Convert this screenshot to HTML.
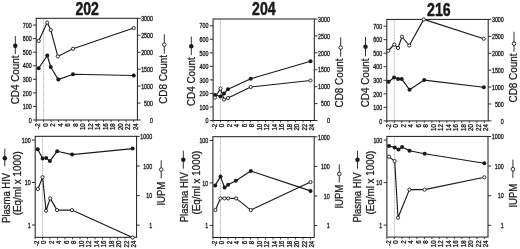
<!DOCTYPE html>
<html><head><meta charset="utf-8"><title>figure</title>
<style>
html,body{margin:0;padding:0;background:#fff;width:520px;height:249px;overflow:hidden;}
svg{display:block;font-family:"Liberation Sans", sans-serif;will-change:transform;filter:blur(0.3px);}
</style></head><body>
<svg width="520" height="249" viewBox="0 0 520 249" font-family='"Liberation Sans", sans-serif'>
<rect width="520" height="249" fill="#fff"/>
<text transform="translate(87.20,14.60) scale(0.8,1)" font-size="17.6" text-anchor="middle" font-weight="bold" fill="#1a1a1a" stroke="#1a1a1a" stroke-width="0.5">202</text>
<line x1="43.60" y1="18.30" x2="43.60" y2="120.00" stroke="#8c8c8c" stroke-width="0.8" stroke-dasharray="0.8,0.8"/>
<rect x="36.20" y="18.30" width="101.20" height="101.70" fill="none" stroke="#1a1a1a" stroke-width="1"/>
<line x1="33.00" y1="120.00" x2="36.20" y2="120.00" stroke="#1a1a1a" stroke-width="0.9"/>
<text transform="translate(31.60,122.70) scale(0.82,1)" font-size="6.5" text-anchor="end" font-weight="normal" fill="#1a1a1a" stroke="#1a1a1a" stroke-width="0.3">0</text>
<line x1="33.00" y1="106.44" x2="36.20" y2="106.44" stroke="#1a1a1a" stroke-width="0.9"/>
<text transform="translate(31.60,109.14) scale(0.82,1)" font-size="6.5" text-anchor="end" font-weight="normal" fill="#1a1a1a" stroke="#1a1a1a" stroke-width="0.3">100</text>
<line x1="33.00" y1="92.88" x2="36.20" y2="92.88" stroke="#1a1a1a" stroke-width="0.9"/>
<text transform="translate(31.60,95.58) scale(0.82,1)" font-size="6.5" text-anchor="end" font-weight="normal" fill="#1a1a1a" stroke="#1a1a1a" stroke-width="0.3">200</text>
<line x1="33.00" y1="79.32" x2="36.20" y2="79.32" stroke="#1a1a1a" stroke-width="0.9"/>
<text transform="translate(31.60,82.02) scale(0.82,1)" font-size="6.5" text-anchor="end" font-weight="normal" fill="#1a1a1a" stroke="#1a1a1a" stroke-width="0.3">300</text>
<line x1="33.00" y1="65.76" x2="36.20" y2="65.76" stroke="#1a1a1a" stroke-width="0.9"/>
<text transform="translate(31.60,68.46) scale(0.82,1)" font-size="6.5" text-anchor="end" font-weight="normal" fill="#1a1a1a" stroke="#1a1a1a" stroke-width="0.3">400</text>
<line x1="33.00" y1="52.20" x2="36.20" y2="52.20" stroke="#1a1a1a" stroke-width="0.9"/>
<text transform="translate(31.60,54.90) scale(0.82,1)" font-size="6.5" text-anchor="end" font-weight="normal" fill="#1a1a1a" stroke="#1a1a1a" stroke-width="0.3">500</text>
<line x1="33.00" y1="38.64" x2="36.20" y2="38.64" stroke="#1a1a1a" stroke-width="0.9"/>
<text transform="translate(31.60,41.34) scale(0.82,1)" font-size="6.5" text-anchor="end" font-weight="normal" fill="#1a1a1a" stroke="#1a1a1a" stroke-width="0.3">600</text>
<line x1="33.00" y1="25.08" x2="36.20" y2="25.08" stroke="#1a1a1a" stroke-width="0.9"/>
<text transform="translate(31.60,27.78) scale(0.82,1)" font-size="6.5" text-anchor="end" font-weight="normal" fill="#1a1a1a" stroke="#1a1a1a" stroke-width="0.3">700</text>
<line x1="137.40" y1="120.00" x2="140.60" y2="120.00" stroke="#1a1a1a" stroke-width="0.9"/>
<text transform="translate(153.00,122.70) scale(0.82,1)" font-size="6.5" text-anchor="end" font-weight="normal" fill="#1a1a1a" stroke="#1a1a1a" stroke-width="0.3">0</text>
<line x1="137.40" y1="103.05" x2="140.60" y2="103.05" stroke="#1a1a1a" stroke-width="0.9"/>
<text transform="translate(153.00,105.75) scale(0.82,1)" font-size="6.5" text-anchor="end" font-weight="normal" fill="#1a1a1a" stroke="#1a1a1a" stroke-width="0.3">500</text>
<line x1="137.40" y1="86.10" x2="140.60" y2="86.10" stroke="#1a1a1a" stroke-width="0.9"/>
<text transform="translate(153.00,88.80) scale(0.82,1)" font-size="6.5" text-anchor="end" font-weight="normal" fill="#1a1a1a" stroke="#1a1a1a" stroke-width="0.3">1000</text>
<line x1="137.40" y1="69.15" x2="140.60" y2="69.15" stroke="#1a1a1a" stroke-width="0.9"/>
<text transform="translate(153.00,71.85) scale(0.82,1)" font-size="6.5" text-anchor="end" font-weight="normal" fill="#1a1a1a" stroke="#1a1a1a" stroke-width="0.3">1500</text>
<line x1="137.40" y1="52.20" x2="140.60" y2="52.20" stroke="#1a1a1a" stroke-width="0.9"/>
<text transform="translate(153.00,54.90) scale(0.82,1)" font-size="6.5" text-anchor="end" font-weight="normal" fill="#1a1a1a" stroke="#1a1a1a" stroke-width="0.3">2000</text>
<line x1="137.40" y1="35.25" x2="140.60" y2="35.25" stroke="#1a1a1a" stroke-width="0.9"/>
<text transform="translate(153.00,37.95) scale(0.82,1)" font-size="6.5" text-anchor="end" font-weight="normal" fill="#1a1a1a" stroke="#1a1a1a" stroke-width="0.3">2500</text>
<line x1="137.40" y1="18.30" x2="140.60" y2="18.30" stroke="#1a1a1a" stroke-width="0.9"/>
<text transform="translate(153.00,21.00) scale(0.82,1)" font-size="6.5" text-anchor="end" font-weight="normal" fill="#1a1a1a" stroke="#1a1a1a" stroke-width="0.3">3000</text>
<line x1="36.10" y1="120.00" x2="36.10" y2="122.00" stroke="#1a1a1a" stroke-width="0.8"/>
<text transform="translate(40.00,123.30) rotate(-90) scale(0.97,1)" font-size="6.3" text-anchor="end" font-weight="normal" fill="#1a1a1a" stroke="#1a1a1a" stroke-width="0.3">-2</text>
<line x1="43.60" y1="120.00" x2="43.60" y2="122.00" stroke="#1a1a1a" stroke-width="0.8"/>
<text transform="translate(47.50,123.30) rotate(-90) scale(0.97,1)" font-size="6.3" text-anchor="end" font-weight="normal" fill="#1a1a1a" stroke="#1a1a1a" stroke-width="0.3">0</text>
<line x1="51.10" y1="120.00" x2="51.10" y2="122.00" stroke="#1a1a1a" stroke-width="0.8"/>
<text transform="translate(55.00,123.30) rotate(-90) scale(0.97,1)" font-size="6.3" text-anchor="end" font-weight="normal" fill="#1a1a1a" stroke="#1a1a1a" stroke-width="0.3">2</text>
<line x1="58.60" y1="120.00" x2="58.60" y2="122.00" stroke="#1a1a1a" stroke-width="0.8"/>
<text transform="translate(62.50,123.30) rotate(-90) scale(0.97,1)" font-size="6.3" text-anchor="end" font-weight="normal" fill="#1a1a1a" stroke="#1a1a1a" stroke-width="0.3">4</text>
<line x1="66.10" y1="120.00" x2="66.10" y2="122.00" stroke="#1a1a1a" stroke-width="0.8"/>
<text transform="translate(70.00,123.30) rotate(-90) scale(0.97,1)" font-size="6.3" text-anchor="end" font-weight="normal" fill="#1a1a1a" stroke="#1a1a1a" stroke-width="0.3">6</text>
<line x1="73.60" y1="120.00" x2="73.60" y2="122.00" stroke="#1a1a1a" stroke-width="0.8"/>
<text transform="translate(77.50,123.30) rotate(-90) scale(0.97,1)" font-size="6.3" text-anchor="end" font-weight="normal" fill="#1a1a1a" stroke="#1a1a1a" stroke-width="0.3">8</text>
<line x1="81.10" y1="120.00" x2="81.10" y2="122.00" stroke="#1a1a1a" stroke-width="0.8"/>
<text transform="translate(85.00,123.30) rotate(-90) scale(0.97,1)" font-size="6.3" text-anchor="end" font-weight="normal" fill="#1a1a1a" stroke="#1a1a1a" stroke-width="0.3">10</text>
<line x1="88.60" y1="120.00" x2="88.60" y2="122.00" stroke="#1a1a1a" stroke-width="0.8"/>
<text transform="translate(92.50,123.30) rotate(-90) scale(0.97,1)" font-size="6.3" text-anchor="end" font-weight="normal" fill="#1a1a1a" stroke="#1a1a1a" stroke-width="0.3">12</text>
<line x1="96.10" y1="120.00" x2="96.10" y2="122.00" stroke="#1a1a1a" stroke-width="0.8"/>
<text transform="translate(100.00,123.30) rotate(-90) scale(0.97,1)" font-size="6.3" text-anchor="end" font-weight="normal" fill="#1a1a1a" stroke="#1a1a1a" stroke-width="0.3">14</text>
<line x1="103.60" y1="120.00" x2="103.60" y2="122.00" stroke="#1a1a1a" stroke-width="0.8"/>
<text transform="translate(107.50,123.30) rotate(-90) scale(0.97,1)" font-size="6.3" text-anchor="end" font-weight="normal" fill="#1a1a1a" stroke="#1a1a1a" stroke-width="0.3">16</text>
<line x1="111.10" y1="120.00" x2="111.10" y2="122.00" stroke="#1a1a1a" stroke-width="0.8"/>
<text transform="translate(115.00,123.30) rotate(-90) scale(0.97,1)" font-size="6.3" text-anchor="end" font-weight="normal" fill="#1a1a1a" stroke="#1a1a1a" stroke-width="0.3">18</text>
<line x1="118.60" y1="120.00" x2="118.60" y2="122.00" stroke="#1a1a1a" stroke-width="0.8"/>
<text transform="translate(122.50,123.30) rotate(-90) scale(0.97,1)" font-size="6.3" text-anchor="end" font-weight="normal" fill="#1a1a1a" stroke="#1a1a1a" stroke-width="0.3">20</text>
<line x1="126.10" y1="120.00" x2="126.10" y2="122.00" stroke="#1a1a1a" stroke-width="0.8"/>
<text transform="translate(130.00,123.30) rotate(-90) scale(0.97,1)" font-size="6.3" text-anchor="end" font-weight="normal" fill="#1a1a1a" stroke="#1a1a1a" stroke-width="0.3">22</text>
<line x1="133.60" y1="120.00" x2="133.60" y2="122.00" stroke="#1a1a1a" stroke-width="0.8"/>
<text transform="translate(137.50,123.30) rotate(-90) scale(0.97,1)" font-size="6.3" text-anchor="end" font-weight="normal" fill="#1a1a1a" stroke="#1a1a1a" stroke-width="0.3">24</text>
<polyline points="38.60,68.30 47.30,55.50 50.70,67.00 58.30,79.60 73.00,74.20 133.75,75.50" fill="none" stroke="#1a1a1a" stroke-width="1.15" stroke-linejoin="round"/>
<polyline points="38.70,40.90 47.20,22.60 50.80,30.10 57.80,56.40 73.00,48.80 133.75,28.00" fill="none" stroke="#1a1a1a" stroke-width="1.15" stroke-linejoin="round"/>
<circle cx="38.60" cy="68.30" r="2.0" fill="#1a1a1a"/>
<circle cx="47.30" cy="55.50" r="2.0" fill="#1a1a1a"/>
<circle cx="50.70" cy="67.00" r="2.0" fill="#1a1a1a"/>
<circle cx="58.30" cy="79.60" r="2.0" fill="#1a1a1a"/>
<circle cx="73.00" cy="74.20" r="2.0" fill="#1a1a1a"/>
<circle cx="133.75" cy="75.50" r="2.0" fill="#1a1a1a"/>
<circle cx="38.70" cy="40.90" r="1.6" fill="#fff" stroke="#1a1a1a" stroke-width="0.9"/>
<circle cx="47.20" cy="22.60" r="1.6" fill="#fff" stroke="#1a1a1a" stroke-width="0.9"/>
<circle cx="50.80" cy="30.10" r="1.6" fill="#fff" stroke="#1a1a1a" stroke-width="0.9"/>
<circle cx="57.80" cy="56.40" r="1.6" fill="#fff" stroke="#1a1a1a" stroke-width="0.9"/>
<circle cx="73.00" cy="48.80" r="1.6" fill="#fff" stroke="#1a1a1a" stroke-width="0.9"/>
<circle cx="133.75" cy="28.00" r="1.6" fill="#fff" stroke="#1a1a1a" stroke-width="0.9"/>
<line x1="15.30" y1="36.00" x2="15.30" y2="54.00" stroke="#1a1a1a" stroke-width="0.9"/>
<circle cx="15.30" cy="45.70" r="2.25" fill="#1a1a1a"/>
<text transform="translate(18.90,104.30) rotate(-90)" font-size="10.0" text-anchor="start" font-weight="normal" fill="#1a1a1a" textLength="48.8" lengthAdjust="spacingAndGlyphs" stroke="#1a1a1a" stroke-width="0.25">CD4 Count</text>
<line x1="164.30" y1="34.30" x2="164.30" y2="53.60" stroke="#1a1a1a" stroke-width="0.9"/>
<circle cx="164.30" cy="44.60" r="1.8" fill="#fff" stroke="#1a1a1a" stroke-width="0.9"/>
<text transform="translate(167.40,103.80) rotate(-90)" font-size="10.0" text-anchor="start" font-weight="normal" fill="#1a1a1a" textLength="48.8" lengthAdjust="spacingAndGlyphs" stroke="#1a1a1a" stroke-width="0.25">CD8 Count</text>
<text transform="translate(263.80,14.60) scale(0.8,1)" font-size="17.6" text-anchor="middle" font-weight="bold" fill="#1a1a1a" stroke="#1a1a1a" stroke-width="0.5">204</text>
<line x1="220.50" y1="19.00" x2="220.50" y2="120.50" stroke="#8c8c8c" stroke-width="0.8" stroke-dasharray="0.8,0.8"/>
<rect x="213.10" y="19.00" width="101.20" height="101.50" fill="none" stroke="#1a1a1a" stroke-width="1"/>
<line x1="209.90" y1="120.50" x2="213.10" y2="120.50" stroke="#1a1a1a" stroke-width="0.9"/>
<text transform="translate(208.50,123.20) scale(0.82,1)" font-size="6.5" text-anchor="end" font-weight="normal" fill="#1a1a1a" stroke="#1a1a1a" stroke-width="0.3">0</text>
<line x1="209.90" y1="106.97" x2="213.10" y2="106.97" stroke="#1a1a1a" stroke-width="0.9"/>
<text transform="translate(208.50,109.67) scale(0.82,1)" font-size="6.5" text-anchor="end" font-weight="normal" fill="#1a1a1a" stroke="#1a1a1a" stroke-width="0.3">100</text>
<line x1="209.90" y1="93.43" x2="213.10" y2="93.43" stroke="#1a1a1a" stroke-width="0.9"/>
<text transform="translate(208.50,96.13) scale(0.82,1)" font-size="6.5" text-anchor="end" font-weight="normal" fill="#1a1a1a" stroke="#1a1a1a" stroke-width="0.3">200</text>
<line x1="209.90" y1="79.90" x2="213.10" y2="79.90" stroke="#1a1a1a" stroke-width="0.9"/>
<text transform="translate(208.50,82.60) scale(0.82,1)" font-size="6.5" text-anchor="end" font-weight="normal" fill="#1a1a1a" stroke="#1a1a1a" stroke-width="0.3">300</text>
<line x1="209.90" y1="66.37" x2="213.10" y2="66.37" stroke="#1a1a1a" stroke-width="0.9"/>
<text transform="translate(208.50,69.07) scale(0.82,1)" font-size="6.5" text-anchor="end" font-weight="normal" fill="#1a1a1a" stroke="#1a1a1a" stroke-width="0.3">400</text>
<line x1="209.90" y1="52.83" x2="213.10" y2="52.83" stroke="#1a1a1a" stroke-width="0.9"/>
<text transform="translate(208.50,55.53) scale(0.82,1)" font-size="6.5" text-anchor="end" font-weight="normal" fill="#1a1a1a" stroke="#1a1a1a" stroke-width="0.3">500</text>
<line x1="209.90" y1="39.30" x2="213.10" y2="39.30" stroke="#1a1a1a" stroke-width="0.9"/>
<text transform="translate(208.50,42.00) scale(0.82,1)" font-size="6.5" text-anchor="end" font-weight="normal" fill="#1a1a1a" stroke="#1a1a1a" stroke-width="0.3">600</text>
<line x1="209.90" y1="25.77" x2="213.10" y2="25.77" stroke="#1a1a1a" stroke-width="0.9"/>
<text transform="translate(208.50,28.47) scale(0.82,1)" font-size="6.5" text-anchor="end" font-weight="normal" fill="#1a1a1a" stroke="#1a1a1a" stroke-width="0.3">700</text>
<line x1="314.30" y1="120.50" x2="317.50" y2="120.50" stroke="#1a1a1a" stroke-width="0.9"/>
<text transform="translate(329.90,123.20) scale(0.82,1)" font-size="6.5" text-anchor="end" font-weight="normal" fill="#1a1a1a" stroke="#1a1a1a" stroke-width="0.3">0</text>
<line x1="314.30" y1="103.58" x2="317.50" y2="103.58" stroke="#1a1a1a" stroke-width="0.9"/>
<text transform="translate(329.90,106.28) scale(0.82,1)" font-size="6.5" text-anchor="end" font-weight="normal" fill="#1a1a1a" stroke="#1a1a1a" stroke-width="0.3">500</text>
<line x1="314.30" y1="86.67" x2="317.50" y2="86.67" stroke="#1a1a1a" stroke-width="0.9"/>
<text transform="translate(329.90,89.37) scale(0.82,1)" font-size="6.5" text-anchor="end" font-weight="normal" fill="#1a1a1a" stroke="#1a1a1a" stroke-width="0.3">1000</text>
<line x1="314.30" y1="69.75" x2="317.50" y2="69.75" stroke="#1a1a1a" stroke-width="0.9"/>
<text transform="translate(329.90,72.45) scale(0.82,1)" font-size="6.5" text-anchor="end" font-weight="normal" fill="#1a1a1a" stroke="#1a1a1a" stroke-width="0.3">1500</text>
<line x1="314.30" y1="52.83" x2="317.50" y2="52.83" stroke="#1a1a1a" stroke-width="0.9"/>
<text transform="translate(329.90,55.53) scale(0.82,1)" font-size="6.5" text-anchor="end" font-weight="normal" fill="#1a1a1a" stroke="#1a1a1a" stroke-width="0.3">2000</text>
<line x1="314.30" y1="35.92" x2="317.50" y2="35.92" stroke="#1a1a1a" stroke-width="0.9"/>
<text transform="translate(329.90,38.62) scale(0.82,1)" font-size="6.5" text-anchor="end" font-weight="normal" fill="#1a1a1a" stroke="#1a1a1a" stroke-width="0.3">2500</text>
<line x1="314.30" y1="19.00" x2="317.50" y2="19.00" stroke="#1a1a1a" stroke-width="0.9"/>
<text transform="translate(329.90,21.70) scale(0.82,1)" font-size="6.5" text-anchor="end" font-weight="normal" fill="#1a1a1a" stroke="#1a1a1a" stroke-width="0.3">3000</text>
<line x1="213.00" y1="120.50" x2="213.00" y2="122.50" stroke="#1a1a1a" stroke-width="0.8"/>
<text transform="translate(216.90,123.80) rotate(-90) scale(0.97,1)" font-size="6.3" text-anchor="end" font-weight="normal" fill="#1a1a1a" stroke="#1a1a1a" stroke-width="0.3">-2</text>
<line x1="220.50" y1="120.50" x2="220.50" y2="122.50" stroke="#1a1a1a" stroke-width="0.8"/>
<text transform="translate(224.40,123.80) rotate(-90) scale(0.97,1)" font-size="6.3" text-anchor="end" font-weight="normal" fill="#1a1a1a" stroke="#1a1a1a" stroke-width="0.3">0</text>
<line x1="228.00" y1="120.50" x2="228.00" y2="122.50" stroke="#1a1a1a" stroke-width="0.8"/>
<text transform="translate(231.90,123.80) rotate(-90) scale(0.97,1)" font-size="6.3" text-anchor="end" font-weight="normal" fill="#1a1a1a" stroke="#1a1a1a" stroke-width="0.3">2</text>
<line x1="235.50" y1="120.50" x2="235.50" y2="122.50" stroke="#1a1a1a" stroke-width="0.8"/>
<text transform="translate(239.40,123.80) rotate(-90) scale(0.97,1)" font-size="6.3" text-anchor="end" font-weight="normal" fill="#1a1a1a" stroke="#1a1a1a" stroke-width="0.3">4</text>
<line x1="243.00" y1="120.50" x2="243.00" y2="122.50" stroke="#1a1a1a" stroke-width="0.8"/>
<text transform="translate(246.90,123.80) rotate(-90) scale(0.97,1)" font-size="6.3" text-anchor="end" font-weight="normal" fill="#1a1a1a" stroke="#1a1a1a" stroke-width="0.3">6</text>
<line x1="250.50" y1="120.50" x2="250.50" y2="122.50" stroke="#1a1a1a" stroke-width="0.8"/>
<text transform="translate(254.40,123.80) rotate(-90) scale(0.97,1)" font-size="6.3" text-anchor="end" font-weight="normal" fill="#1a1a1a" stroke="#1a1a1a" stroke-width="0.3">8</text>
<line x1="258.00" y1="120.50" x2="258.00" y2="122.50" stroke="#1a1a1a" stroke-width="0.8"/>
<text transform="translate(261.90,123.80) rotate(-90) scale(0.97,1)" font-size="6.3" text-anchor="end" font-weight="normal" fill="#1a1a1a" stroke="#1a1a1a" stroke-width="0.3">10</text>
<line x1="265.50" y1="120.50" x2="265.50" y2="122.50" stroke="#1a1a1a" stroke-width="0.8"/>
<text transform="translate(269.40,123.80) rotate(-90) scale(0.97,1)" font-size="6.3" text-anchor="end" font-weight="normal" fill="#1a1a1a" stroke="#1a1a1a" stroke-width="0.3">12</text>
<line x1="273.00" y1="120.50" x2="273.00" y2="122.50" stroke="#1a1a1a" stroke-width="0.8"/>
<text transform="translate(276.90,123.80) rotate(-90) scale(0.97,1)" font-size="6.3" text-anchor="end" font-weight="normal" fill="#1a1a1a" stroke="#1a1a1a" stroke-width="0.3">14</text>
<line x1="280.50" y1="120.50" x2="280.50" y2="122.50" stroke="#1a1a1a" stroke-width="0.8"/>
<text transform="translate(284.40,123.80) rotate(-90) scale(0.97,1)" font-size="6.3" text-anchor="end" font-weight="normal" fill="#1a1a1a" stroke="#1a1a1a" stroke-width="0.3">16</text>
<line x1="288.00" y1="120.50" x2="288.00" y2="122.50" stroke="#1a1a1a" stroke-width="0.8"/>
<text transform="translate(291.90,123.80) rotate(-90) scale(0.97,1)" font-size="6.3" text-anchor="end" font-weight="normal" fill="#1a1a1a" stroke="#1a1a1a" stroke-width="0.3">18</text>
<line x1="295.50" y1="120.50" x2="295.50" y2="122.50" stroke="#1a1a1a" stroke-width="0.8"/>
<text transform="translate(299.40,123.80) rotate(-90) scale(0.97,1)" font-size="6.3" text-anchor="end" font-weight="normal" fill="#1a1a1a" stroke="#1a1a1a" stroke-width="0.3">20</text>
<line x1="303.00" y1="120.50" x2="303.00" y2="122.50" stroke="#1a1a1a" stroke-width="0.8"/>
<text transform="translate(306.90,123.80) rotate(-90) scale(0.97,1)" font-size="6.3" text-anchor="end" font-weight="normal" fill="#1a1a1a" stroke="#1a1a1a" stroke-width="0.3">22</text>
<line x1="310.50" y1="120.50" x2="310.50" y2="122.50" stroke="#1a1a1a" stroke-width="0.8"/>
<text transform="translate(314.40,123.80) rotate(-90) scale(0.97,1)" font-size="6.3" text-anchor="end" font-weight="normal" fill="#1a1a1a" stroke="#1a1a1a" stroke-width="0.3">24</text>
<polyline points="215.00,95.00 220.50,96.40 224.00,93.50 228.00,89.20 250.75,78.75 310.50,61.30" fill="none" stroke="#1a1a1a" stroke-width="1.15" stroke-linejoin="round"/>
<polyline points="215.00,97.50 220.50,88.50 224.00,99.50 228.00,98.00 250.75,87.00 310.50,80.50" fill="none" stroke="#1a1a1a" stroke-width="1.15" stroke-linejoin="round"/>
<circle cx="215.00" cy="95.00" r="2.0" fill="#1a1a1a"/>
<circle cx="220.50" cy="96.40" r="2.0" fill="#1a1a1a"/>
<circle cx="224.00" cy="93.50" r="2.0" fill="#1a1a1a"/>
<circle cx="228.00" cy="89.20" r="2.0" fill="#1a1a1a"/>
<circle cx="250.75" cy="78.75" r="2.0" fill="#1a1a1a"/>
<circle cx="310.50" cy="61.30" r="2.0" fill="#1a1a1a"/>
<circle cx="215.00" cy="97.50" r="1.6" fill="#fff" stroke="#1a1a1a" stroke-width="0.9"/>
<circle cx="220.50" cy="88.50" r="1.6" fill="#fff" stroke="#1a1a1a" stroke-width="0.9"/>
<circle cx="224.00" cy="99.50" r="1.6" fill="#fff" stroke="#1a1a1a" stroke-width="0.9"/>
<circle cx="228.00" cy="98.00" r="1.6" fill="#fff" stroke="#1a1a1a" stroke-width="0.9"/>
<circle cx="250.75" cy="87.00" r="1.6" fill="#fff" stroke="#1a1a1a" stroke-width="0.9"/>
<circle cx="310.50" cy="80.50" r="1.6" fill="#fff" stroke="#1a1a1a" stroke-width="0.9"/>
<line x1="191.30" y1="36.50" x2="191.30" y2="55.00" stroke="#1a1a1a" stroke-width="0.9"/>
<circle cx="191.30" cy="46.20" r="2.25" fill="#1a1a1a"/>
<text transform="translate(194.70,106.00) rotate(-90)" font-size="10.0" text-anchor="start" font-weight="normal" fill="#1a1a1a" textLength="48.8" lengthAdjust="spacingAndGlyphs" stroke="#1a1a1a" stroke-width="0.25">CD4 Count</text>
<line x1="340.70" y1="37.30" x2="340.70" y2="56.80" stroke="#1a1a1a" stroke-width="0.9"/>
<circle cx="340.70" cy="47.60" r="1.8" fill="#fff" stroke="#1a1a1a" stroke-width="0.9"/>
<text transform="translate(343.30,107.40) rotate(-90)" font-size="10.0" text-anchor="start" font-weight="normal" fill="#1a1a1a" textLength="48.8" lengthAdjust="spacingAndGlyphs" stroke="#1a1a1a" stroke-width="0.25">CD8 Count</text>
<text transform="translate(438.80,16.30) scale(0.8,1)" font-size="17.6" text-anchor="middle" font-weight="bold" fill="#1a1a1a" stroke="#1a1a1a" stroke-width="0.5">216</text>
<line x1="394.30" y1="19.40" x2="394.30" y2="120.90" stroke="#8c8c8c" stroke-width="0.8" stroke-dasharray="0.8,0.8"/>
<rect x="386.80" y="19.40" width="101.40" height="101.50" fill="none" stroke="#1a1a1a" stroke-width="1"/>
<line x1="383.60" y1="120.90" x2="386.80" y2="120.90" stroke="#1a1a1a" stroke-width="0.9"/>
<text transform="translate(382.20,123.60) scale(0.82,1)" font-size="6.5" text-anchor="end" font-weight="normal" fill="#1a1a1a" stroke="#1a1a1a" stroke-width="0.3">0</text>
<line x1="383.60" y1="107.37" x2="386.80" y2="107.37" stroke="#1a1a1a" stroke-width="0.9"/>
<text transform="translate(382.20,110.07) scale(0.82,1)" font-size="6.5" text-anchor="end" font-weight="normal" fill="#1a1a1a" stroke="#1a1a1a" stroke-width="0.3">100</text>
<line x1="383.60" y1="93.83" x2="386.80" y2="93.83" stroke="#1a1a1a" stroke-width="0.9"/>
<text transform="translate(382.20,96.53) scale(0.82,1)" font-size="6.5" text-anchor="end" font-weight="normal" fill="#1a1a1a" stroke="#1a1a1a" stroke-width="0.3">200</text>
<line x1="383.60" y1="80.30" x2="386.80" y2="80.30" stroke="#1a1a1a" stroke-width="0.9"/>
<text transform="translate(382.20,83.00) scale(0.82,1)" font-size="6.5" text-anchor="end" font-weight="normal" fill="#1a1a1a" stroke="#1a1a1a" stroke-width="0.3">300</text>
<line x1="383.60" y1="66.77" x2="386.80" y2="66.77" stroke="#1a1a1a" stroke-width="0.9"/>
<text transform="translate(382.20,69.47) scale(0.82,1)" font-size="6.5" text-anchor="end" font-weight="normal" fill="#1a1a1a" stroke="#1a1a1a" stroke-width="0.3">400</text>
<line x1="383.60" y1="53.23" x2="386.80" y2="53.23" stroke="#1a1a1a" stroke-width="0.9"/>
<text transform="translate(382.20,55.93) scale(0.82,1)" font-size="6.5" text-anchor="end" font-weight="normal" fill="#1a1a1a" stroke="#1a1a1a" stroke-width="0.3">500</text>
<line x1="383.60" y1="39.70" x2="386.80" y2="39.70" stroke="#1a1a1a" stroke-width="0.9"/>
<text transform="translate(382.20,42.40) scale(0.82,1)" font-size="6.5" text-anchor="end" font-weight="normal" fill="#1a1a1a" stroke="#1a1a1a" stroke-width="0.3">600</text>
<line x1="383.60" y1="26.17" x2="386.80" y2="26.17" stroke="#1a1a1a" stroke-width="0.9"/>
<text transform="translate(382.20,28.87) scale(0.82,1)" font-size="6.5" text-anchor="end" font-weight="normal" fill="#1a1a1a" stroke="#1a1a1a" stroke-width="0.3">700</text>
<line x1="488.20" y1="120.90" x2="491.40" y2="120.90" stroke="#1a1a1a" stroke-width="0.9"/>
<text transform="translate(503.80,123.60) scale(0.82,1)" font-size="6.5" text-anchor="end" font-weight="normal" fill="#1a1a1a" stroke="#1a1a1a" stroke-width="0.3">0</text>
<line x1="488.20" y1="103.98" x2="491.40" y2="103.98" stroke="#1a1a1a" stroke-width="0.9"/>
<text transform="translate(503.80,106.68) scale(0.82,1)" font-size="6.5" text-anchor="end" font-weight="normal" fill="#1a1a1a" stroke="#1a1a1a" stroke-width="0.3">500</text>
<line x1="488.20" y1="87.07" x2="491.40" y2="87.07" stroke="#1a1a1a" stroke-width="0.9"/>
<text transform="translate(503.80,89.77) scale(0.82,1)" font-size="6.5" text-anchor="end" font-weight="normal" fill="#1a1a1a" stroke="#1a1a1a" stroke-width="0.3">1000</text>
<line x1="488.20" y1="70.15" x2="491.40" y2="70.15" stroke="#1a1a1a" stroke-width="0.9"/>
<text transform="translate(503.80,72.85) scale(0.82,1)" font-size="6.5" text-anchor="end" font-weight="normal" fill="#1a1a1a" stroke="#1a1a1a" stroke-width="0.3">1500</text>
<line x1="488.20" y1="53.23" x2="491.40" y2="53.23" stroke="#1a1a1a" stroke-width="0.9"/>
<text transform="translate(503.80,55.93) scale(0.82,1)" font-size="6.5" text-anchor="end" font-weight="normal" fill="#1a1a1a" stroke="#1a1a1a" stroke-width="0.3">2000</text>
<line x1="488.20" y1="36.32" x2="491.40" y2="36.32" stroke="#1a1a1a" stroke-width="0.9"/>
<text transform="translate(503.80,39.02) scale(0.82,1)" font-size="6.5" text-anchor="end" font-weight="normal" fill="#1a1a1a" stroke="#1a1a1a" stroke-width="0.3">2500</text>
<line x1="488.20" y1="19.40" x2="491.40" y2="19.40" stroke="#1a1a1a" stroke-width="0.9"/>
<text transform="translate(503.80,22.10) scale(0.82,1)" font-size="6.5" text-anchor="end" font-weight="normal" fill="#1a1a1a" stroke="#1a1a1a" stroke-width="0.3">3000</text>
<line x1="386.80" y1="120.90" x2="386.80" y2="122.90" stroke="#1a1a1a" stroke-width="0.8"/>
<text transform="translate(390.70,124.20) rotate(-90) scale(0.97,1)" font-size="6.3" text-anchor="end" font-weight="normal" fill="#1a1a1a" stroke="#1a1a1a" stroke-width="0.3">-2</text>
<line x1="394.30" y1="120.90" x2="394.30" y2="122.90" stroke="#1a1a1a" stroke-width="0.8"/>
<text transform="translate(398.20,124.20) rotate(-90) scale(0.97,1)" font-size="6.3" text-anchor="end" font-weight="normal" fill="#1a1a1a" stroke="#1a1a1a" stroke-width="0.3">0</text>
<line x1="401.80" y1="120.90" x2="401.80" y2="122.90" stroke="#1a1a1a" stroke-width="0.8"/>
<text transform="translate(405.70,124.20) rotate(-90) scale(0.97,1)" font-size="6.3" text-anchor="end" font-weight="normal" fill="#1a1a1a" stroke="#1a1a1a" stroke-width="0.3">2</text>
<line x1="409.30" y1="120.90" x2="409.30" y2="122.90" stroke="#1a1a1a" stroke-width="0.8"/>
<text transform="translate(413.20,124.20) rotate(-90) scale(0.97,1)" font-size="6.3" text-anchor="end" font-weight="normal" fill="#1a1a1a" stroke="#1a1a1a" stroke-width="0.3">4</text>
<line x1="416.80" y1="120.90" x2="416.80" y2="122.90" stroke="#1a1a1a" stroke-width="0.8"/>
<text transform="translate(420.70,124.20) rotate(-90) scale(0.97,1)" font-size="6.3" text-anchor="end" font-weight="normal" fill="#1a1a1a" stroke="#1a1a1a" stroke-width="0.3">6</text>
<line x1="424.30" y1="120.90" x2="424.30" y2="122.90" stroke="#1a1a1a" stroke-width="0.8"/>
<text transform="translate(428.20,124.20) rotate(-90) scale(0.97,1)" font-size="6.3" text-anchor="end" font-weight="normal" fill="#1a1a1a" stroke="#1a1a1a" stroke-width="0.3">8</text>
<line x1="431.80" y1="120.90" x2="431.80" y2="122.90" stroke="#1a1a1a" stroke-width="0.8"/>
<text transform="translate(435.70,124.20) rotate(-90) scale(0.97,1)" font-size="6.3" text-anchor="end" font-weight="normal" fill="#1a1a1a" stroke="#1a1a1a" stroke-width="0.3">10</text>
<line x1="439.30" y1="120.90" x2="439.30" y2="122.90" stroke="#1a1a1a" stroke-width="0.8"/>
<text transform="translate(443.20,124.20) rotate(-90) scale(0.97,1)" font-size="6.3" text-anchor="end" font-weight="normal" fill="#1a1a1a" stroke="#1a1a1a" stroke-width="0.3">12</text>
<line x1="446.80" y1="120.90" x2="446.80" y2="122.90" stroke="#1a1a1a" stroke-width="0.8"/>
<text transform="translate(450.70,124.20) rotate(-90) scale(0.97,1)" font-size="6.3" text-anchor="end" font-weight="normal" fill="#1a1a1a" stroke="#1a1a1a" stroke-width="0.3">14</text>
<line x1="454.30" y1="120.90" x2="454.30" y2="122.90" stroke="#1a1a1a" stroke-width="0.8"/>
<text transform="translate(458.20,124.20) rotate(-90) scale(0.97,1)" font-size="6.3" text-anchor="end" font-weight="normal" fill="#1a1a1a" stroke="#1a1a1a" stroke-width="0.3">16</text>
<line x1="461.80" y1="120.90" x2="461.80" y2="122.90" stroke="#1a1a1a" stroke-width="0.8"/>
<text transform="translate(465.70,124.20) rotate(-90) scale(0.97,1)" font-size="6.3" text-anchor="end" font-weight="normal" fill="#1a1a1a" stroke="#1a1a1a" stroke-width="0.3">18</text>
<line x1="469.30" y1="120.90" x2="469.30" y2="122.90" stroke="#1a1a1a" stroke-width="0.8"/>
<text transform="translate(473.20,124.20) rotate(-90) scale(0.97,1)" font-size="6.3" text-anchor="end" font-weight="normal" fill="#1a1a1a" stroke="#1a1a1a" stroke-width="0.3">20</text>
<line x1="476.80" y1="120.90" x2="476.80" y2="122.90" stroke="#1a1a1a" stroke-width="0.8"/>
<text transform="translate(480.70,124.20) rotate(-90) scale(0.97,1)" font-size="6.3" text-anchor="end" font-weight="normal" fill="#1a1a1a" stroke="#1a1a1a" stroke-width="0.3">22</text>
<line x1="484.30" y1="120.90" x2="484.30" y2="122.90" stroke="#1a1a1a" stroke-width="0.8"/>
<text transform="translate(488.20,124.20) rotate(-90) scale(0.97,1)" font-size="6.3" text-anchor="end" font-weight="normal" fill="#1a1a1a" stroke="#1a1a1a" stroke-width="0.3">24</text>
<polyline points="388.60,81.70 394.10,77.50 398.10,79.10 401.70,79.10 409.50,89.70 424.20,80.10 483.80,87.20" fill="none" stroke="#1a1a1a" stroke-width="1.15" stroke-linejoin="round"/>
<polyline points="388.25,50.75 394.25,44.50 398.00,48.00 402.00,36.75 409.25,45.50 423.75,19.40 483.75,38.75" fill="none" stroke="#1a1a1a" stroke-width="1.15" stroke-linejoin="round"/>
<circle cx="388.60" cy="81.70" r="2.0" fill="#1a1a1a"/>
<circle cx="394.10" cy="77.50" r="2.0" fill="#1a1a1a"/>
<circle cx="398.10" cy="79.10" r="2.0" fill="#1a1a1a"/>
<circle cx="401.70" cy="79.10" r="2.0" fill="#1a1a1a"/>
<circle cx="409.50" cy="89.70" r="2.0" fill="#1a1a1a"/>
<circle cx="424.20" cy="80.10" r="2.0" fill="#1a1a1a"/>
<circle cx="483.80" cy="87.20" r="2.0" fill="#1a1a1a"/>
<circle cx="388.25" cy="50.75" r="1.6" fill="#fff" stroke="#1a1a1a" stroke-width="0.9"/>
<circle cx="394.25" cy="44.50" r="1.6" fill="#fff" stroke="#1a1a1a" stroke-width="0.9"/>
<circle cx="398.00" cy="48.00" r="1.6" fill="#fff" stroke="#1a1a1a" stroke-width="0.9"/>
<circle cx="402.00" cy="36.75" r="1.6" fill="#fff" stroke="#1a1a1a" stroke-width="0.9"/>
<circle cx="409.25" cy="45.50" r="1.6" fill="#fff" stroke="#1a1a1a" stroke-width="0.9"/>
<circle cx="423.75" cy="19.40" r="1.6" fill="#fff" stroke="#1a1a1a" stroke-width="0.9"/>
<circle cx="483.75" cy="38.75" r="1.6" fill="#fff" stroke="#1a1a1a" stroke-width="0.9"/>
<line x1="365.50" y1="37.00" x2="365.50" y2="56.40" stroke="#1a1a1a" stroke-width="0.9"/>
<circle cx="365.50" cy="46.70" r="2.25" fill="#1a1a1a"/>
<text transform="translate(369.00,107.30) rotate(-90)" font-size="10.0" text-anchor="start" font-weight="normal" fill="#1a1a1a" textLength="48.8" lengthAdjust="spacingAndGlyphs" stroke="#1a1a1a" stroke-width="0.25">CD4 Count</text>
<line x1="514.00" y1="31.80" x2="514.00" y2="51.70" stroke="#1a1a1a" stroke-width="0.9"/>
<circle cx="514.00" cy="43.70" r="1.8" fill="#fff" stroke="#1a1a1a" stroke-width="0.9"/>
<text transform="translate(516.80,102.40) rotate(-90)" font-size="10.0" text-anchor="start" font-weight="normal" fill="#1a1a1a" textLength="48.8" lengthAdjust="spacingAndGlyphs" stroke="#1a1a1a" stroke-width="0.25">CD8 Count</text>
<line x1="42.50" y1="136.30" x2="42.50" y2="237.30" stroke="#8c8c8c" stroke-width="0.8" stroke-dasharray="0.8,0.8"/>
<rect x="35.20" y="136.30" width="101.40" height="101.00" fill="none" stroke="#1a1a1a" stroke-width="1"/>
<line x1="32.00" y1="140.00" x2="35.20" y2="140.00" stroke="#1a1a1a" stroke-width="0.9"/>
<text transform="translate(30.60,142.70) scale(0.82,1)" font-size="6.5" text-anchor="end" font-weight="normal" fill="#1a1a1a" stroke="#1a1a1a" stroke-width="0.3">100</text>
<line x1="32.00" y1="182.50" x2="35.20" y2="182.50" stroke="#1a1a1a" stroke-width="0.9"/>
<text transform="translate(30.60,185.20) scale(0.82,1)" font-size="6.5" text-anchor="end" font-weight="normal" fill="#1a1a1a" stroke="#1a1a1a" stroke-width="0.3">10</text>
<line x1="32.00" y1="225.00" x2="35.20" y2="225.00" stroke="#1a1a1a" stroke-width="0.9"/>
<text transform="translate(30.60,227.70) scale(0.82,1)" font-size="6.5" text-anchor="end" font-weight="normal" fill="#1a1a1a" stroke="#1a1a1a" stroke-width="0.3">1</text>
<line x1="136.60" y1="136.40" x2="139.80" y2="136.40" stroke="#1a1a1a" stroke-width="0.9"/>
<text transform="translate(152.20,139.10) scale(0.82,1)" font-size="6.5" text-anchor="end" font-weight="normal" fill="#1a1a1a" stroke="#1a1a1a" stroke-width="0.3">1000</text>
<line x1="136.60" y1="166.00" x2="139.80" y2="166.00" stroke="#1a1a1a" stroke-width="0.9"/>
<text transform="translate(152.20,168.70) scale(0.82,1)" font-size="6.5" text-anchor="end" font-weight="normal" fill="#1a1a1a" stroke="#1a1a1a" stroke-width="0.3">100</text>
<line x1="136.60" y1="195.60" x2="139.80" y2="195.60" stroke="#1a1a1a" stroke-width="0.9"/>
<text transform="translate(152.20,198.30) scale(0.82,1)" font-size="6.5" text-anchor="end" font-weight="normal" fill="#1a1a1a" stroke="#1a1a1a" stroke-width="0.3">10</text>
<line x1="136.60" y1="225.20" x2="139.80" y2="225.20" stroke="#1a1a1a" stroke-width="0.9"/>
<text transform="translate(152.20,227.90) scale(0.82,1)" font-size="6.5" text-anchor="end" font-weight="normal" fill="#1a1a1a" stroke="#1a1a1a" stroke-width="0.3">1</text>
<line x1="35.00" y1="237.30" x2="35.00" y2="239.30" stroke="#1a1a1a" stroke-width="0.8"/>
<text transform="translate(38.90,240.60) rotate(-90) scale(0.97,1)" font-size="6.3" text-anchor="end" font-weight="normal" fill="#1a1a1a" stroke="#1a1a1a" stroke-width="0.3">-2</text>
<line x1="42.50" y1="237.30" x2="42.50" y2="239.30" stroke="#1a1a1a" stroke-width="0.8"/>
<text transform="translate(46.40,240.60) rotate(-90) scale(0.97,1)" font-size="6.3" text-anchor="end" font-weight="normal" fill="#1a1a1a" stroke="#1a1a1a" stroke-width="0.3">0</text>
<line x1="50.00" y1="237.30" x2="50.00" y2="239.30" stroke="#1a1a1a" stroke-width="0.8"/>
<text transform="translate(53.90,240.60) rotate(-90) scale(0.97,1)" font-size="6.3" text-anchor="end" font-weight="normal" fill="#1a1a1a" stroke="#1a1a1a" stroke-width="0.3">2</text>
<line x1="57.50" y1="237.30" x2="57.50" y2="239.30" stroke="#1a1a1a" stroke-width="0.8"/>
<text transform="translate(61.40,240.60) rotate(-90) scale(0.97,1)" font-size="6.3" text-anchor="end" font-weight="normal" fill="#1a1a1a" stroke="#1a1a1a" stroke-width="0.3">4</text>
<line x1="65.00" y1="237.30" x2="65.00" y2="239.30" stroke="#1a1a1a" stroke-width="0.8"/>
<text transform="translate(68.90,240.60) rotate(-90) scale(0.97,1)" font-size="6.3" text-anchor="end" font-weight="normal" fill="#1a1a1a" stroke="#1a1a1a" stroke-width="0.3">6</text>
<line x1="72.50" y1="237.30" x2="72.50" y2="239.30" stroke="#1a1a1a" stroke-width="0.8"/>
<text transform="translate(76.40,240.60) rotate(-90) scale(0.97,1)" font-size="6.3" text-anchor="end" font-weight="normal" fill="#1a1a1a" stroke="#1a1a1a" stroke-width="0.3">8</text>
<line x1="80.00" y1="237.30" x2="80.00" y2="239.30" stroke="#1a1a1a" stroke-width="0.8"/>
<text transform="translate(83.90,240.60) rotate(-90) scale(0.97,1)" font-size="6.3" text-anchor="end" font-weight="normal" fill="#1a1a1a" stroke="#1a1a1a" stroke-width="0.3">10</text>
<line x1="87.50" y1="237.30" x2="87.50" y2="239.30" stroke="#1a1a1a" stroke-width="0.8"/>
<text transform="translate(91.40,240.60) rotate(-90) scale(0.97,1)" font-size="6.3" text-anchor="end" font-weight="normal" fill="#1a1a1a" stroke="#1a1a1a" stroke-width="0.3">12</text>
<line x1="95.00" y1="237.30" x2="95.00" y2="239.30" stroke="#1a1a1a" stroke-width="0.8"/>
<text transform="translate(98.90,240.60) rotate(-90) scale(0.97,1)" font-size="6.3" text-anchor="end" font-weight="normal" fill="#1a1a1a" stroke="#1a1a1a" stroke-width="0.3">14</text>
<line x1="102.50" y1="237.30" x2="102.50" y2="239.30" stroke="#1a1a1a" stroke-width="0.8"/>
<text transform="translate(106.40,240.60) rotate(-90) scale(0.97,1)" font-size="6.3" text-anchor="end" font-weight="normal" fill="#1a1a1a" stroke="#1a1a1a" stroke-width="0.3">16</text>
<line x1="110.00" y1="237.30" x2="110.00" y2="239.30" stroke="#1a1a1a" stroke-width="0.8"/>
<text transform="translate(113.90,240.60) rotate(-90) scale(0.97,1)" font-size="6.3" text-anchor="end" font-weight="normal" fill="#1a1a1a" stroke="#1a1a1a" stroke-width="0.3">18</text>
<line x1="117.50" y1="237.30" x2="117.50" y2="239.30" stroke="#1a1a1a" stroke-width="0.8"/>
<text transform="translate(121.40,240.60) rotate(-90) scale(0.97,1)" font-size="6.3" text-anchor="end" font-weight="normal" fill="#1a1a1a" stroke="#1a1a1a" stroke-width="0.3">20</text>
<line x1="125.00" y1="237.30" x2="125.00" y2="239.30" stroke="#1a1a1a" stroke-width="0.8"/>
<text transform="translate(128.90,240.60) rotate(-90) scale(0.97,1)" font-size="6.3" text-anchor="end" font-weight="normal" fill="#1a1a1a" stroke="#1a1a1a" stroke-width="0.3">22</text>
<line x1="132.50" y1="237.30" x2="132.50" y2="239.30" stroke="#1a1a1a" stroke-width="0.8"/>
<text transform="translate(136.40,240.60) rotate(-90) scale(0.97,1)" font-size="6.3" text-anchor="end" font-weight="normal" fill="#1a1a1a" stroke="#1a1a1a" stroke-width="0.3">24</text>
<polyline points="37.70,149.20 42.60,158.60 46.20,158.00 49.90,161.10 57.20,151.20 72.10,154.60 132.60,148.60" fill="none" stroke="#1a1a1a" stroke-width="1.15" stroke-linejoin="round"/>
<polyline points="37.90,189.00 42.60,177.20 46.00,210.70 50.20,198.40 57.00,210.10 71.90,210.10 132.50,237.50" fill="none" stroke="#1a1a1a" stroke-width="1.15" stroke-linejoin="round"/>
<circle cx="37.70" cy="149.20" r="2.0" fill="#1a1a1a"/>
<circle cx="42.60" cy="158.60" r="2.0" fill="#1a1a1a"/>
<circle cx="46.20" cy="158.00" r="2.0" fill="#1a1a1a"/>
<circle cx="49.90" cy="161.10" r="2.0" fill="#1a1a1a"/>
<circle cx="57.20" cy="151.20" r="2.0" fill="#1a1a1a"/>
<circle cx="72.10" cy="154.60" r="2.0" fill="#1a1a1a"/>
<circle cx="132.60" cy="148.60" r="2.0" fill="#1a1a1a"/>
<circle cx="37.90" cy="189.00" r="1.6" fill="#fff" stroke="#1a1a1a" stroke-width="0.9"/>
<circle cx="42.60" cy="177.20" r="1.6" fill="#fff" stroke="#1a1a1a" stroke-width="0.9"/>
<circle cx="46.00" cy="210.70" r="1.6" fill="#fff" stroke="#1a1a1a" stroke-width="0.9"/>
<circle cx="50.20" cy="198.40" r="1.6" fill="#fff" stroke="#1a1a1a" stroke-width="0.9"/>
<circle cx="57.00" cy="210.10" r="1.6" fill="#fff" stroke="#1a1a1a" stroke-width="0.9"/>
<circle cx="71.90" cy="210.10" r="1.6" fill="#fff" stroke="#1a1a1a" stroke-width="0.9"/>
<circle cx="132.50" cy="237.50" r="1.6" fill="#fff" stroke="#1a1a1a" stroke-width="0.9"/>
<line x1="4.80" y1="148.70" x2="4.80" y2="166.30" stroke="#1a1a1a" stroke-width="0.9"/>
<circle cx="4.80" cy="158.30" r="2.25" fill="#1a1a1a"/>
<text transform="translate(9.50,222.90) rotate(-90)" font-size="10.0" text-anchor="start" font-weight="normal" fill="#1a1a1a" textLength="50.0" lengthAdjust="spacingAndGlyphs" stroke="#1a1a1a" stroke-width="0.25">Plasma HIV</text>
<text transform="translate(21.00,215.30) rotate(-90)" font-size="10.2" text-anchor="start" font-weight="normal" fill="#1a1a1a" textLength="64.0" lengthAdjust="spacingAndGlyphs" stroke="#1a1a1a" stroke-width="0.25">(Eq/ml x 1000)</text>
<line x1="161.20" y1="160.40" x2="161.20" y2="178.40" stroke="#1a1a1a" stroke-width="0.9"/>
<circle cx="161.20" cy="169.60" r="1.8" fill="#fff" stroke="#1a1a1a" stroke-width="0.9"/>
<text transform="translate(164.80,205.60) rotate(-90)" font-size="10.0" text-anchor="start" font-weight="normal" fill="#1a1a1a" textLength="23.8" lengthAdjust="spacingAndGlyphs" stroke="#1a1a1a" stroke-width="0.25">IUPM</text>
<line x1="220.50" y1="136.70" x2="220.50" y2="237.50" stroke="#8c8c8c" stroke-width="0.8" stroke-dasharray="0.8,0.8"/>
<rect x="212.90" y="136.70" width="101.30" height="100.80" fill="none" stroke="#1a1a1a" stroke-width="1"/>
<line x1="209.70" y1="140.40" x2="212.90" y2="140.40" stroke="#1a1a1a" stroke-width="0.9"/>
<text transform="translate(208.30,143.10) scale(0.82,1)" font-size="6.5" text-anchor="end" font-weight="normal" fill="#1a1a1a" stroke="#1a1a1a" stroke-width="0.3">100</text>
<line x1="209.70" y1="182.90" x2="212.90" y2="182.90" stroke="#1a1a1a" stroke-width="0.9"/>
<text transform="translate(208.30,185.60) scale(0.82,1)" font-size="6.5" text-anchor="end" font-weight="normal" fill="#1a1a1a" stroke="#1a1a1a" stroke-width="0.3">10</text>
<line x1="209.70" y1="225.40" x2="212.90" y2="225.40" stroke="#1a1a1a" stroke-width="0.9"/>
<text transform="translate(208.30,228.10) scale(0.82,1)" font-size="6.5" text-anchor="end" font-weight="normal" fill="#1a1a1a" stroke="#1a1a1a" stroke-width="0.3">1</text>
<line x1="314.20" y1="136.80" x2="317.40" y2="136.80" stroke="#1a1a1a" stroke-width="0.9"/>
<text transform="translate(329.80,139.50) scale(0.82,1)" font-size="6.5" text-anchor="end" font-weight="normal" fill="#1a1a1a" stroke="#1a1a1a" stroke-width="0.3">1000</text>
<line x1="314.20" y1="166.40" x2="317.40" y2="166.40" stroke="#1a1a1a" stroke-width="0.9"/>
<text transform="translate(329.80,169.10) scale(0.82,1)" font-size="6.5" text-anchor="end" font-weight="normal" fill="#1a1a1a" stroke="#1a1a1a" stroke-width="0.3">100</text>
<line x1="314.20" y1="196.00" x2="317.40" y2="196.00" stroke="#1a1a1a" stroke-width="0.9"/>
<text transform="translate(329.80,198.70) scale(0.82,1)" font-size="6.5" text-anchor="end" font-weight="normal" fill="#1a1a1a" stroke="#1a1a1a" stroke-width="0.3">10</text>
<line x1="314.20" y1="225.60" x2="317.40" y2="225.60" stroke="#1a1a1a" stroke-width="0.9"/>
<text transform="translate(329.80,228.30) scale(0.82,1)" font-size="6.5" text-anchor="end" font-weight="normal" fill="#1a1a1a" stroke="#1a1a1a" stroke-width="0.3">1</text>
<line x1="213.00" y1="237.50" x2="213.00" y2="239.50" stroke="#1a1a1a" stroke-width="0.8"/>
<text transform="translate(216.90,240.80) rotate(-90) scale(0.97,1)" font-size="6.3" text-anchor="end" font-weight="normal" fill="#1a1a1a" stroke="#1a1a1a" stroke-width="0.3">-2</text>
<line x1="220.50" y1="237.50" x2="220.50" y2="239.50" stroke="#1a1a1a" stroke-width="0.8"/>
<text transform="translate(224.40,240.80) rotate(-90) scale(0.97,1)" font-size="6.3" text-anchor="end" font-weight="normal" fill="#1a1a1a" stroke="#1a1a1a" stroke-width="0.3">0</text>
<line x1="228.00" y1="237.50" x2="228.00" y2="239.50" stroke="#1a1a1a" stroke-width="0.8"/>
<text transform="translate(231.90,240.80) rotate(-90) scale(0.97,1)" font-size="6.3" text-anchor="end" font-weight="normal" fill="#1a1a1a" stroke="#1a1a1a" stroke-width="0.3">2</text>
<line x1="235.50" y1="237.50" x2="235.50" y2="239.50" stroke="#1a1a1a" stroke-width="0.8"/>
<text transform="translate(239.40,240.80) rotate(-90) scale(0.97,1)" font-size="6.3" text-anchor="end" font-weight="normal" fill="#1a1a1a" stroke="#1a1a1a" stroke-width="0.3">4</text>
<line x1="243.00" y1="237.50" x2="243.00" y2="239.50" stroke="#1a1a1a" stroke-width="0.8"/>
<text transform="translate(246.90,240.80) rotate(-90) scale(0.97,1)" font-size="6.3" text-anchor="end" font-weight="normal" fill="#1a1a1a" stroke="#1a1a1a" stroke-width="0.3">6</text>
<line x1="250.50" y1="237.50" x2="250.50" y2="239.50" stroke="#1a1a1a" stroke-width="0.8"/>
<text transform="translate(254.40,240.80) rotate(-90) scale(0.97,1)" font-size="6.3" text-anchor="end" font-weight="normal" fill="#1a1a1a" stroke="#1a1a1a" stroke-width="0.3">8</text>
<line x1="258.00" y1="237.50" x2="258.00" y2="239.50" stroke="#1a1a1a" stroke-width="0.8"/>
<text transform="translate(261.90,240.80) rotate(-90) scale(0.97,1)" font-size="6.3" text-anchor="end" font-weight="normal" fill="#1a1a1a" stroke="#1a1a1a" stroke-width="0.3">10</text>
<line x1="265.50" y1="237.50" x2="265.50" y2="239.50" stroke="#1a1a1a" stroke-width="0.8"/>
<text transform="translate(269.40,240.80) rotate(-90) scale(0.97,1)" font-size="6.3" text-anchor="end" font-weight="normal" fill="#1a1a1a" stroke="#1a1a1a" stroke-width="0.3">12</text>
<line x1="273.00" y1="237.50" x2="273.00" y2="239.50" stroke="#1a1a1a" stroke-width="0.8"/>
<text transform="translate(276.90,240.80) rotate(-90) scale(0.97,1)" font-size="6.3" text-anchor="end" font-weight="normal" fill="#1a1a1a" stroke="#1a1a1a" stroke-width="0.3">14</text>
<line x1="280.50" y1="237.50" x2="280.50" y2="239.50" stroke="#1a1a1a" stroke-width="0.8"/>
<text transform="translate(284.40,240.80) rotate(-90) scale(0.97,1)" font-size="6.3" text-anchor="end" font-weight="normal" fill="#1a1a1a" stroke="#1a1a1a" stroke-width="0.3">16</text>
<line x1="288.00" y1="237.50" x2="288.00" y2="239.50" stroke="#1a1a1a" stroke-width="0.8"/>
<text transform="translate(291.90,240.80) rotate(-90) scale(0.97,1)" font-size="6.3" text-anchor="end" font-weight="normal" fill="#1a1a1a" stroke="#1a1a1a" stroke-width="0.3">18</text>
<line x1="295.50" y1="237.50" x2="295.50" y2="239.50" stroke="#1a1a1a" stroke-width="0.8"/>
<text transform="translate(299.40,240.80) rotate(-90) scale(0.97,1)" font-size="6.3" text-anchor="end" font-weight="normal" fill="#1a1a1a" stroke="#1a1a1a" stroke-width="0.3">20</text>
<line x1="303.00" y1="237.50" x2="303.00" y2="239.50" stroke="#1a1a1a" stroke-width="0.8"/>
<text transform="translate(306.90,240.80) rotate(-90) scale(0.97,1)" font-size="6.3" text-anchor="end" font-weight="normal" fill="#1a1a1a" stroke="#1a1a1a" stroke-width="0.3">22</text>
<line x1="310.50" y1="237.50" x2="310.50" y2="239.50" stroke="#1a1a1a" stroke-width="0.8"/>
<text transform="translate(314.40,240.80) rotate(-90) scale(0.97,1)" font-size="6.3" text-anchor="end" font-weight="normal" fill="#1a1a1a" stroke="#1a1a1a" stroke-width="0.3">24</text>
<polyline points="215.20,185.40 220.50,176.60 224.60,187.50 228.10,184.80 235.80,180.80 250.80,171.00 310.50,190.90" fill="none" stroke="#1a1a1a" stroke-width="1.15" stroke-linejoin="round"/>
<polyline points="215.40,210.10 220.40,198.40 224.50,198.40 228.10,198.40 236.10,198.40 250.80,210.10 310.50,182.10" fill="none" stroke="#1a1a1a" stroke-width="1.15" stroke-linejoin="round"/>
<circle cx="215.20" cy="185.40" r="2.0" fill="#1a1a1a"/>
<circle cx="220.50" cy="176.60" r="2.0" fill="#1a1a1a"/>
<circle cx="224.60" cy="187.50" r="2.0" fill="#1a1a1a"/>
<circle cx="228.10" cy="184.80" r="2.0" fill="#1a1a1a"/>
<circle cx="235.80" cy="180.80" r="2.0" fill="#1a1a1a"/>
<circle cx="250.80" cy="171.00" r="2.0" fill="#1a1a1a"/>
<circle cx="310.50" cy="190.90" r="2.0" fill="#1a1a1a"/>
<circle cx="215.40" cy="210.10" r="1.6" fill="#fff" stroke="#1a1a1a" stroke-width="0.9"/>
<circle cx="220.40" cy="198.40" r="1.6" fill="#fff" stroke="#1a1a1a" stroke-width="0.9"/>
<circle cx="224.50" cy="198.40" r="1.6" fill="#fff" stroke="#1a1a1a" stroke-width="0.9"/>
<circle cx="228.10" cy="198.40" r="1.6" fill="#fff" stroke="#1a1a1a" stroke-width="0.9"/>
<circle cx="236.10" cy="198.40" r="1.6" fill="#fff" stroke="#1a1a1a" stroke-width="0.9"/>
<circle cx="250.80" cy="210.10" r="1.6" fill="#fff" stroke="#1a1a1a" stroke-width="0.9"/>
<circle cx="310.50" cy="182.10" r="1.6" fill="#fff" stroke="#1a1a1a" stroke-width="0.9"/>
<line x1="183.30" y1="150.70" x2="183.30" y2="168.70" stroke="#1a1a1a" stroke-width="0.9"/>
<circle cx="183.30" cy="159.80" r="2.25" fill="#1a1a1a"/>
<text transform="translate(187.50,222.20) rotate(-90)" font-size="10.0" text-anchor="start" font-weight="normal" fill="#1a1a1a" textLength="50.0" lengthAdjust="spacingAndGlyphs" stroke="#1a1a1a" stroke-width="0.25">Plasma HIV</text>
<text transform="translate(199.60,214.60) rotate(-90)" font-size="10.2" text-anchor="start" font-weight="normal" fill="#1a1a1a" textLength="64.0" lengthAdjust="spacingAndGlyphs" stroke="#1a1a1a" stroke-width="0.25">(Eq/ml x 1000)</text>
<line x1="339.30" y1="164.30" x2="339.30" y2="182.60" stroke="#1a1a1a" stroke-width="0.9"/>
<circle cx="339.30" cy="174.00" r="1.8" fill="#fff" stroke="#1a1a1a" stroke-width="0.9"/>
<text transform="translate(342.70,208.60) rotate(-90)" font-size="10.0" text-anchor="start" font-weight="normal" fill="#1a1a1a" textLength="23.8" lengthAdjust="spacingAndGlyphs" stroke="#1a1a1a" stroke-width="0.25">IUPM</text>
<line x1="394.40" y1="136.40" x2="394.40" y2="237.10" stroke="#8c8c8c" stroke-width="0.8" stroke-dasharray="0.8,0.8"/>
<rect x="386.90" y="136.40" width="101.10" height="100.70" fill="none" stroke="#1a1a1a" stroke-width="1"/>
<line x1="383.70" y1="140.10" x2="386.90" y2="140.10" stroke="#1a1a1a" stroke-width="0.9"/>
<text transform="translate(382.30,142.80) scale(0.82,1)" font-size="6.5" text-anchor="end" font-weight="normal" fill="#1a1a1a" stroke="#1a1a1a" stroke-width="0.3">100</text>
<line x1="383.70" y1="182.60" x2="386.90" y2="182.60" stroke="#1a1a1a" stroke-width="0.9"/>
<text transform="translate(382.30,185.30) scale(0.82,1)" font-size="6.5" text-anchor="end" font-weight="normal" fill="#1a1a1a" stroke="#1a1a1a" stroke-width="0.3">10</text>
<line x1="383.70" y1="225.10" x2="386.90" y2="225.10" stroke="#1a1a1a" stroke-width="0.9"/>
<text transform="translate(382.30,227.80) scale(0.82,1)" font-size="6.5" text-anchor="end" font-weight="normal" fill="#1a1a1a" stroke="#1a1a1a" stroke-width="0.3">1</text>
<line x1="488.00" y1="136.50" x2="491.20" y2="136.50" stroke="#1a1a1a" stroke-width="0.9"/>
<text transform="translate(503.60,139.20) scale(0.82,1)" font-size="6.5" text-anchor="end" font-weight="normal" fill="#1a1a1a" stroke="#1a1a1a" stroke-width="0.3">1000</text>
<line x1="488.00" y1="166.10" x2="491.20" y2="166.10" stroke="#1a1a1a" stroke-width="0.9"/>
<text transform="translate(503.60,168.80) scale(0.82,1)" font-size="6.5" text-anchor="end" font-weight="normal" fill="#1a1a1a" stroke="#1a1a1a" stroke-width="0.3">100</text>
<line x1="488.00" y1="195.70" x2="491.20" y2="195.70" stroke="#1a1a1a" stroke-width="0.9"/>
<text transform="translate(503.60,198.40) scale(0.82,1)" font-size="6.5" text-anchor="end" font-weight="normal" fill="#1a1a1a" stroke="#1a1a1a" stroke-width="0.3">10</text>
<line x1="488.00" y1="225.30" x2="491.20" y2="225.30" stroke="#1a1a1a" stroke-width="0.9"/>
<text transform="translate(503.60,228.00) scale(0.82,1)" font-size="6.5" text-anchor="end" font-weight="normal" fill="#1a1a1a" stroke="#1a1a1a" stroke-width="0.3">1</text>
<line x1="386.90" y1="237.10" x2="386.90" y2="239.10" stroke="#1a1a1a" stroke-width="0.8"/>
<text transform="translate(390.80,240.40) rotate(-90) scale(0.97,1)" font-size="6.3" text-anchor="end" font-weight="normal" fill="#1a1a1a" stroke="#1a1a1a" stroke-width="0.3">-2</text>
<line x1="394.40" y1="237.10" x2="394.40" y2="239.10" stroke="#1a1a1a" stroke-width="0.8"/>
<text transform="translate(398.30,240.40) rotate(-90) scale(0.97,1)" font-size="6.3" text-anchor="end" font-weight="normal" fill="#1a1a1a" stroke="#1a1a1a" stroke-width="0.3">0</text>
<line x1="401.90" y1="237.10" x2="401.90" y2="239.10" stroke="#1a1a1a" stroke-width="0.8"/>
<text transform="translate(405.80,240.40) rotate(-90) scale(0.97,1)" font-size="6.3" text-anchor="end" font-weight="normal" fill="#1a1a1a" stroke="#1a1a1a" stroke-width="0.3">2</text>
<line x1="409.40" y1="237.10" x2="409.40" y2="239.10" stroke="#1a1a1a" stroke-width="0.8"/>
<text transform="translate(413.30,240.40) rotate(-90) scale(0.97,1)" font-size="6.3" text-anchor="end" font-weight="normal" fill="#1a1a1a" stroke="#1a1a1a" stroke-width="0.3">4</text>
<line x1="416.90" y1="237.10" x2="416.90" y2="239.10" stroke="#1a1a1a" stroke-width="0.8"/>
<text transform="translate(420.80,240.40) rotate(-90) scale(0.97,1)" font-size="6.3" text-anchor="end" font-weight="normal" fill="#1a1a1a" stroke="#1a1a1a" stroke-width="0.3">6</text>
<line x1="424.40" y1="237.10" x2="424.40" y2="239.10" stroke="#1a1a1a" stroke-width="0.8"/>
<text transform="translate(428.30,240.40) rotate(-90) scale(0.97,1)" font-size="6.3" text-anchor="end" font-weight="normal" fill="#1a1a1a" stroke="#1a1a1a" stroke-width="0.3">8</text>
<line x1="431.90" y1="237.10" x2="431.90" y2="239.10" stroke="#1a1a1a" stroke-width="0.8"/>
<text transform="translate(435.80,240.40) rotate(-90) scale(0.97,1)" font-size="6.3" text-anchor="end" font-weight="normal" fill="#1a1a1a" stroke="#1a1a1a" stroke-width="0.3">10</text>
<line x1="439.40" y1="237.10" x2="439.40" y2="239.10" stroke="#1a1a1a" stroke-width="0.8"/>
<text transform="translate(443.30,240.40) rotate(-90) scale(0.97,1)" font-size="6.3" text-anchor="end" font-weight="normal" fill="#1a1a1a" stroke="#1a1a1a" stroke-width="0.3">12</text>
<line x1="446.90" y1="237.10" x2="446.90" y2="239.10" stroke="#1a1a1a" stroke-width="0.8"/>
<text transform="translate(450.80,240.40) rotate(-90) scale(0.97,1)" font-size="6.3" text-anchor="end" font-weight="normal" fill="#1a1a1a" stroke="#1a1a1a" stroke-width="0.3">14</text>
<line x1="454.40" y1="237.10" x2="454.40" y2="239.10" stroke="#1a1a1a" stroke-width="0.8"/>
<text transform="translate(458.30,240.40) rotate(-90) scale(0.97,1)" font-size="6.3" text-anchor="end" font-weight="normal" fill="#1a1a1a" stroke="#1a1a1a" stroke-width="0.3">16</text>
<line x1="461.90" y1="237.10" x2="461.90" y2="239.10" stroke="#1a1a1a" stroke-width="0.8"/>
<text transform="translate(465.80,240.40) rotate(-90) scale(0.97,1)" font-size="6.3" text-anchor="end" font-weight="normal" fill="#1a1a1a" stroke="#1a1a1a" stroke-width="0.3">18</text>
<line x1="469.40" y1="237.10" x2="469.40" y2="239.10" stroke="#1a1a1a" stroke-width="0.8"/>
<text transform="translate(473.30,240.40) rotate(-90) scale(0.97,1)" font-size="6.3" text-anchor="end" font-weight="normal" fill="#1a1a1a" stroke="#1a1a1a" stroke-width="0.3">20</text>
<line x1="476.90" y1="237.10" x2="476.90" y2="239.10" stroke="#1a1a1a" stroke-width="0.8"/>
<text transform="translate(480.80,240.40) rotate(-90) scale(0.97,1)" font-size="6.3" text-anchor="end" font-weight="normal" fill="#1a1a1a" stroke="#1a1a1a" stroke-width="0.3">22</text>
<line x1="484.40" y1="237.10" x2="484.40" y2="239.10" stroke="#1a1a1a" stroke-width="0.8"/>
<text transform="translate(488.30,240.40) rotate(-90) scale(0.97,1)" font-size="6.3" text-anchor="end" font-weight="normal" fill="#1a1a1a" stroke="#1a1a1a" stroke-width="0.3">24</text>
<polyline points="389.00,146.00 394.70,147.40 398.50,149.50 402.10,147.00 409.50,150.70 424.60,153.70 484.30,163.20" fill="none" stroke="#1a1a1a" stroke-width="1.15" stroke-linejoin="round"/>
<polyline points="389.00,156.70 394.70,161.10 398.00,217.70 409.40,189.60 424.60,189.60 484.30,177.30" fill="none" stroke="#1a1a1a" stroke-width="1.15" stroke-linejoin="round"/>
<circle cx="389.00" cy="146.00" r="2.0" fill="#1a1a1a"/>
<circle cx="394.70" cy="147.40" r="2.0" fill="#1a1a1a"/>
<circle cx="398.50" cy="149.50" r="2.0" fill="#1a1a1a"/>
<circle cx="402.10" cy="147.00" r="2.0" fill="#1a1a1a"/>
<circle cx="409.50" cy="150.70" r="2.0" fill="#1a1a1a"/>
<circle cx="424.60" cy="153.70" r="2.0" fill="#1a1a1a"/>
<circle cx="484.30" cy="163.20" r="2.0" fill="#1a1a1a"/>
<circle cx="389.00" cy="156.70" r="1.6" fill="#fff" stroke="#1a1a1a" stroke-width="0.9"/>
<circle cx="394.70" cy="161.10" r="1.6" fill="#fff" stroke="#1a1a1a" stroke-width="0.9"/>
<circle cx="398.00" cy="217.70" r="1.6" fill="#fff" stroke="#1a1a1a" stroke-width="0.9"/>
<circle cx="409.40" cy="189.60" r="1.6" fill="#fff" stroke="#1a1a1a" stroke-width="0.9"/>
<circle cx="424.60" cy="189.60" r="1.6" fill="#fff" stroke="#1a1a1a" stroke-width="0.9"/>
<circle cx="484.30" cy="177.30" r="1.6" fill="#fff" stroke="#1a1a1a" stroke-width="0.9"/>
<line x1="357.50" y1="150.70" x2="357.50" y2="168.70" stroke="#1a1a1a" stroke-width="0.9"/>
<circle cx="357.50" cy="159.80" r="2.25" fill="#1a1a1a"/>
<text transform="translate(361.20,222.50) rotate(-90)" font-size="10.0" text-anchor="start" font-weight="normal" fill="#1a1a1a" textLength="50.0" lengthAdjust="spacingAndGlyphs" stroke="#1a1a1a" stroke-width="0.25">Plasma HIV</text>
<text transform="translate(374.20,214.60) rotate(-90)" font-size="10.2" text-anchor="start" font-weight="normal" fill="#1a1a1a" textLength="64.0" lengthAdjust="spacingAndGlyphs" stroke="#1a1a1a" stroke-width="0.25">(Eq/ml x 1000)</text>
<line x1="512.90" y1="159.60" x2="512.90" y2="177.90" stroke="#1a1a1a" stroke-width="0.9"/>
<circle cx="512.90" cy="169.20" r="1.8" fill="#fff" stroke="#1a1a1a" stroke-width="0.9"/>
<text transform="translate(516.90,207.60) rotate(-90)" font-size="10.0" text-anchor="start" font-weight="normal" fill="#1a1a1a" textLength="23.8" lengthAdjust="spacingAndGlyphs" stroke="#1a1a1a" stroke-width="0.25">IUPM</text>
</svg>
</body></html>
